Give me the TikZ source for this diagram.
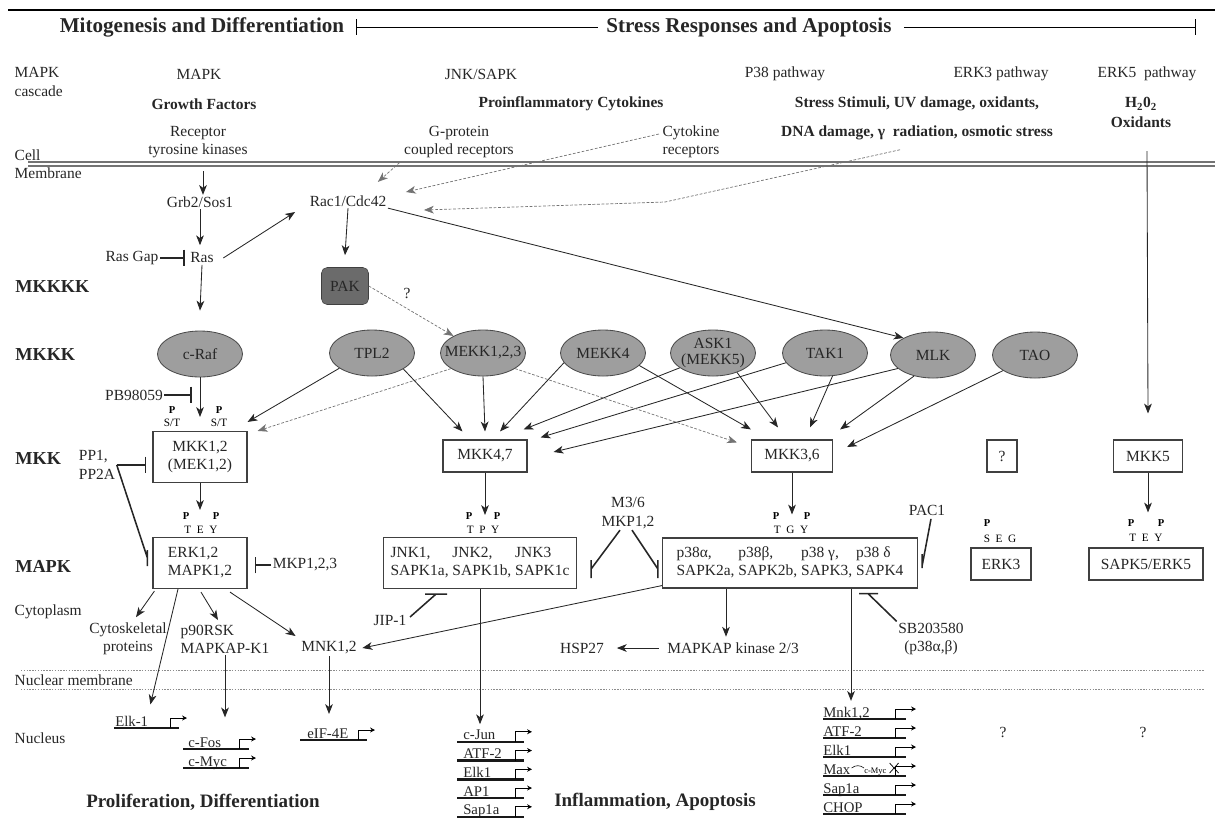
\documentclass[tikz,border=0pt]{standalone}
\usepackage{fontspec}
\setmainfont{Liberation Serif}
\usetikzlibrary{arrows.meta}
\usetikzlibrary{shapes.geometric}

\tikzset{
  txt/.style={font=\fontsize{11}{13}\selectfont, text=black!85, inner sep=1pt, align=center},
  rowlbl/.style={font=\bfseries\fontsize{13}{15}\selectfont, text=black!85, inner sep=0pt, anchor=west},
  ttlfont/.style={font=\bfseries\fontsize{15}{17}\selectfont, text=black!85, inner sep=0pt},
  stim/.style={font=\bfseries\fontsize{11}{13}\selectfont, text=black!85, inner sep=1pt, align=center},
  outcome/.style={font=\bfseries\fontsize{13.5}{15}\selectfont, text=black!85, inner sep=0pt},
  kinlbl/.style={font=\fontsize{11}{12}\selectfont, text=black!85, align=center, inner sep=0pt},
  kinase/.style={ellipse, draw=black!70, fill=black!38, line width=0.6pt, minimum width=2.125cm, minimum height=1.15cm, inner sep=0pt, label={[kinlbl]center:#1}},
  mbox/.style={draw=black!75, line width=0.8pt, fill=white, align=center, font=\fontsize{11}{12.8}\selectfont, text=black!85, inner sep=1pt, minimum height=0.8cm},
  phos/.style={font=\bfseries\fontsize{7.5}{8}\selectfont, inner sep=0pt},
  site/.style={font=\fontsize{8}{8}\selectfont, inner sep=0pt},
  act/.style={-{Stealth[length=7pt,width=5.5pt,inset=2pt]}, line width=0.6pt, draw=black!85},
  weak/.style={-{Stealth[length=7pt,width=5.5pt,inset=2pt]}, line width=0.5pt, draw=black!55, dash pattern=on 2pt off 1.2pt},
  inh/.style={line width=1.1pt, draw=black!85},
  membrane/.style={line width=1pt, draw=black!55},
  nucmem/.style={line width=0.5pt, draw=black!45, dash pattern=on 1pt off 1pt},
  gene/.style={anchor=base west, font=\fontsize{10.5}{11}\selectfont, text=black!85, inner sep=0pt},
  genebar/.style={line width=1.8pt, draw=black!90},
  prom/.style={line width=0.6pt, -{Stealth[length=3.5pt,width=3.5pt]}},
}

\begin{document}
\begin{tikzpicture}[x=0.025cm, y=-0.025cm]
\useasboundingbox (0,0) rectangle (1215,818);

% Drawing top rule and section titles
\draw[line width=1pt] (8,10) -- (1215,10);%
\node[ttlfont] (ttlmito) at (202,27) {Mitogenesis and Differentiation};%
\node[ttlfont] (ttlstress) at (749,27) {Stress Responses and Apoptosis};%
\coordinate (ttlend) at (1196,27);%
\draw[{Bar[width=11pt]}-, line width=0.6pt] ([shift={(12,0)}]ttlmito.east) -- ([shift={(-8,0)}]ttlstress.west);%
\draw[-{Bar[width=11pt]}, line width=0.6pt] ([shift={(12,0)}]ttlstress.east) -- (ttlend);%

% Pathway headers
\node[txt, anchor=west, align=left] (cascade) at (13,82) {MAPK\\cascade};%
\node[txt] (hmapk) at (199,74) {MAPK};%
\node[txt] (hjnk) at (481,74) {JNK/SAPK};%
\node[txt] (hp38) at (785,74) {P38 pathway};%
\node[txt] (herk3) at (1001,74) {ERK3 pathway};%
\node[txt] (herk5) at (1147,74) {ERK5\ \ pathway};%

% Stimuli
\node[stim] (growth) at (204,104) {Growth Factors};%
\node[stim] (proinf) at (571,104) {Proinflammatory Cytokines};%
\node[stim] (stress) at (917,104) {Stress Stimuli, UV damage, oxidants,};%
\node[stim] (dna) at (917,133) {DNA damage, γ\ \ radiation, osmotic stress};%
\node[stim] (htwo) at (1141,104) {H\textsubscript{2}0\textsubscript{2}};%
\node[stim] (oxid) at (1141,122) {Oxidants};%

% Receptors
\node[txt] (rtk) at (198,142) {Receptor\\tyrosine kinases};%
\node[txt] (gpcr) at (459,142) {G-protein\\coupled receptors};%
\node[txt] (cytr) at (691,142) {Cytokine\\receptors};%

% Drawing cell membrane
\node[txt, anchor=west, align=left] (cellmem) at (13,164) {Cell\\Membrane};%
\draw[membrane] (28,162) -- (1215,162);%
\draw[membrane] (28,166) -- (1215,166);%

% Row labels on the left
\node[rowlbl] (lmkkkk) at (15,287) {MKKKK};%
\node[rowlbl] (lmkkk) at (15,355) {MKKK};%
\node[rowlbl] (lmkk) at (15,459) {MKK};%
\node[rowlbl] (lmapk) at (15,566) {MAPK};%
\node[txt, anchor=west] (lcyto) at (13,612) {Cytoplasm};%
\node[txt, anchor=west] (lnucmem) at (13,680) {Nuclear membrane};%
\node[txt, anchor=west] (lnuc) at (13,738) {Nucleus};%

% Drawing nuclear membrane
\draw[nucmem] (21,670) -- (1205,670);%
\draw[nucmem] (21,689) -- (1205,689);%

% Upstream of the MAPK pathway
\node[txt] (grb) at (200,202) {Grb2/Sos1};%
\node[txt] (ras) at (202,258) {Ras};%
\node[txt] (rasgap) at (132,258) {Ras Gap};%
\node[txt] (rac) at (348,201) {Rac1/Cdc42};%
\node[txt, rounded corners=4pt, draw=black!75, fill=black!58, minimum width=1.175cm, minimum height=0.925cm] (pak) at (345,286) {PAK};%
\node[txt] (pakq) at (407,293) {?};%
\node[txt] (pb) at (134,395) {PB98059};%
\coordinate (pbend) at (192,395);%
\coordinate (rtkin) at (203,171);%
\coordinate (kink) at (665,202);%

% MKKK ellipses
\node[kinase={c-Raf}] (raf) at (200,354) {};%
\node[kinase={TPL2}] (tpl2) at (372,353) {};%
\node[kinase={MEKK1,2,3}] (mekk123) at (483,353) {};%
\node[kinase={MEKK4}] (mekk4) at (603,353) {};%
\node[kinase={ASK1\\(MEKK5)}] (ask1) at (713,353) {};%
\node[kinase={TAK1}] (tak1) at (825,353) {};%
\node[kinase={MLK}] (mlk) at (933,355) {};%
\node[kinase={TAO}] (tao) at (1035,355) {};%

% MKK boxes
\node[mbox, minimum width=2.35cm, minimum height=1.275cm] (mkk12) at (200,457) {MKK1,2\\(MEK1,2)};%
\node[mbox, minimum width=2.1cm] (mkk47) at (485,456) {MKK4,7};%
\node[mbox, minimum width=2.025cm] (mkk36) at (792,456) {MKK3,6};%
\node[mbox, minimum width=0.75cm] (mkkq) at (1002,456) {?};%
\node[mbox, minimum width=1.725cm] (mkk5) at (1148,456) {MKK5};%

% MAPK boxes
\node[mbox, minimum width=2.35cm, minimum height=1.275cm, align=left] (erk12) at (200,563) {ERK1,2\\MAPK1,2};%
\node[mbox, minimum width=4.825cm, minimum height=1.275cm] (jnk) at (480,563) {\begin{tabular}{@{}l@{\ }l@{\ }l@{}}JNK1, & JNK2, & JNK3\\ SAPK1a, & SAPK1b, & SAPK1c\end{tabular}};%
\node[mbox, minimum width=6.375cm, minimum height=1.25cm] (p38) at (790,563) {\begin{tabular}{@{}l@{\ }l@{\ }l@{\ }l@{}}p38α, & p38β, & p38 γ, & p38 δ\\ SAPK2a, & SAPK2b, & SAPK3, & SAPK4\end{tabular}};%
\node[mbox, minimum width=1.5cm] (erk3) at (1001,564) {ERK3};%
\node[mbox, minimum width=2.85cm] (sapk5) at (1146,564) {SAPK5/ERK5};%

% Phosphorylation sites
\node[phos] (pm1) at (172,410) {P};%
\node[phos] (pm2) at (219,410) {P};%
\node[site] (sm1) at (172,423) {S/T};%
\node[site] (sm2) at (219,423) {S/T};%
\node[phos] (pe1) at (186,516) {P};%
\node[phos] (pe2) at (216,516) {P};%
\node[site] (tey) at (201,530) {T\enspace E\enspace Y};%
\node[phos] (pj1) at (469,516) {P};%
\node[phos] (pj2) at (497,516) {P};%
\node[site] (tpy) at (483,530) {T\enspace P\enspace Y};%
\node[phos] (pp1) at (776,516) {P};%
\node[phos] (pp2) at (807,516) {P};%
\node[site] (tgy) at (791,530) {T\enspace G\enspace Y};%
\node[phos] (pr1) at (987,523) {P};%
\node[site] (seg) at (1000,539) {S\enspace E\enspace G};%
\node[phos] (pf1) at (1131,523) {P};%
\node[phos] (pf2) at (1161,523) {P};%
\node[site] (tey5) at (1146,538) {T\enspace E\enspace Y};%

% Regulators
\node[txt, align=left] (pp) at (97,465) {PP1,\\PP2A};%
\node[txt] (mkp) at (305,565) {MKP1,2,3};%
\node[txt] (m36) at (628,513) {M3/6\\MKP1,2};%
\node[txt] (pac1) at (927,510) {PAC1};%
\node[txt] (jip) at (390,620) {JIP-1};%
\node[txt] (sb) at (931,639) {SB203580\\(p38α,β)};%
\coordinate (ppend) at ([shift={(-5,-5)}]erk12.west);%
\coordinate (m36j) at ([shift={(14,6)}]jnk.east);%
\coordinate (m36p) at ([shift={(-4,6)}]p38.west);%
\coordinate (pacend) at ([shift={(4,3)}]p38.east);%
\coordinate (jipend) at ([shift={(-44,5)}]jnk.south);%
\coordinate (sbend) at ([shift={(78,5)}]p38.south);%

% Cytoplasmic targets
\node[txt] (cyto) at (128,639) {Cytoskeletal\\proteins};%
\node[txt, align=left] (rsk) at (225,639) {p90RSK\\MAPKAP-K1};%
\node[txt] (mnk) at (329,648) {MNK1,2};%
\node[txt] (hsp) at (582,648) {HSP27};%
\node[txt] (mapkap) at (733,648) {MAPKAP kinase 2/3};%

% Nuclear genes, MAPK branch
\node[gene] (elk) at (115,726) {Elk-1};%
\draw[genebar] ([shift={(-1,2)}]elk.base west) -- ++(65,0);%
\draw[prom] ([shift={(55,2)}]elk.base west) -- ++(0,-10) -- ++(17,0);%
\node[gene] (cfos) at (188,747) {c-Fos};%
\draw[genebar] ([shift={(-5,2)}]cfos.base west) -- ++(66,0);%
\draw[prom] ([shift={(51,2)}]cfos.base west) -- ++(0,-10) -- ++(17,0);%
\node[gene] (cmyc) at (188,766) {c-Myc};%
\draw[genebar] ([shift={(-5,2)}]cmyc.base west) -- ++(66,0);%
\draw[prom] ([shift={(51,2)}]cmyc.base west) -- ++(0,-10) -- ++(17,0);%
\node[gene] (eif) at (307,738) {eIF-4E};%
\draw[genebar] ([shift={(-7,2)}]eif.base west) -- ++(67,0);%
\draw[prom] ([shift={(51,2)}]eif.base west) -- ++(0,-10) -- ++(17,0);%

% Nuclear genes, JNK branch
\foreach \g [count=\i] in {c-Jun,ATF-2,Elk1,AP1,Sap1a}{
  \node[gene] (jg\i) at (463,721+18.75*\i) {\g};
  \draw[genebar] ([shift={(-6,2)}]jg\i.base west) -- ++(67,0);
  \draw[prom] ([shift={(52,2)}]jg\i.base west) -- ++(0,-10) -- ++(17,0);
}

% Nuclear genes, p38 branch
\foreach \g [count=\i] in {{Mnk1,2},ATF-2,Elk1,Max,Sap1a,CHOP}{
  \node[gene] (pg\i) at (823,698+19*\i) {\g};
  \draw[genebar] ([shift={(0,2)}]pg\i.base west) -- ++(83,0);
  \draw[prom] ([shift={(72,2)}]pg\i.base west) -- ++(0,-10) -- ++(21,0);
}
\node[font=\fontsize{6}{6}\selectfont, inner sep=0pt, anchor=base west] (cmyc2) at (864,773) {c-Myc};%
\draw[line width=0.4pt] ([shift={(1,-6)}]pg4.base east) to[bend left=40] ([shift={(0,-5)}]cmyc2.base west);%
\draw[line width=0.5pt] ([shift={(3,-10)}]cmyc2.base east) -- ([shift={(12,0)}]cmyc2.base east) ([shift={(3,0)}]cmyc2.base east) -- ([shift={(12,-10)}]cmyc2.base east);%

% Outcomes
\node[txt] (q3) at (1003,732) {?};%
\node[txt] (q5) at (1143,732) {?};%
\node[outcome] (prolif) at (203,802) {Proliferation, Differentiation};%
\node[outcome] (inflam) at (655,802) {Inflammation, Apoptosis};%

% Drawing receptor signals
\draw[act] (rtkin) -- (rtkin |- grb.north);%
\draw[weak] ([shift={(-3,3)}]gpcr.south west) -- ([shift={(-10,-12)}]rac.north east);%
\draw[weak] ([shift={(-2,-8)}]cytr.west) -- ([shift={(18,-9)}]rac.east);%
\draw[weak] ([shift={(-17,8)}]dna.south) -- (kink) -- ([shift={(36,9)}]rac.east);%
\draw[act] ([shift={(6,22)}]oxid.south) -- ([shift={(0,-26)}]mkk5.north);%

% Drawing upstream arrows
\draw[act] (grb.south) -- ([shift={(-2,-6)}]ras.north);%
\draw[inh, -{Bar[width=12pt]}] (rasgap.east) -- ([shift={(-4,0)}]ras.west);%
\draw[act] (ras.south) -- ([shift={(0,-20)}]raf.north);%
\draw[act] ([shift={(8,0)}]ras.east) -- ([shift={(-13,11)}]rac.west);%
\draw[act] (rac.south) -- ([shift={(0,-12)}]pak.north);%
\draw[act] (rac.south east) -- (mlk.150);%
\draw[weak] (pak.east) -- (mekk123.150);%
\draw[inh, -{Bar[width=12pt]}] (pb.east) -- (pbend);%

% Drawing MKKK to MKK arrows
\draw[act] (raf.south) -- ([shift={(0,-14)}]mkk12.north);%
\draw[act] (tpl2.205) -- ([shift={(0,-9)}]mkk12.north east);%
\draw[weak] (mekk123.206) -- ([shift={(10,0)}]mkk12.north east);%
\draw[act] (tpl2.333) -- ([shift={(20,-8)}]mkk47.north west);%
\draw[act] (mekk123.south) -- ([shift={(0,-8)}]mkk47.north);%
\draw[act] (mekk4.194) -- ([shift={(15,-8)}]mkk47.north);%
\draw[act] (ask1.204) -- ([shift={(-4,-10)}]mkk47.north east);%
\draw[act] (tak1.194) -- ([shift={(13,-2)}]mkk47.north east);%
\draw[act] (mlk.201) -- ([shift={(26,-4)}]mkk47.east);%
\draw[weak] (mekk123.334) -- ([shift={(-14,3)}]mkk36.north west);%
\draw[act] (mekk4.341) -- ([shift={(0,-10)}]mkk36.north west);%
\draw[act] (ask1.321) -- ([shift={(-14,-12)}]mkk36.north);%
\draw[act] (tak1.288) -- ([shift={(18,-12)}]mkk36.north);%
\draw[act] (mlk.228) -- ([shift={(7,-10)}]mkk36.north east);%
\draw[act] (tao.206) -- ([shift={(14,-9)}]mkk36.east);%

% Drawing MKK to MAPK arrows
\draw[act] (mkk12.south) -- ([shift={(0,-27)}]erk12.north);%
\draw[act] (mkk47.south) -- ([shift={(5,-22)}]jnk.north);%
\draw[act] (mkk36.south) -- ([shift={(2,-23)}]p38.north);%
\draw[act] (mkk5.south) -- ([shift={(2,-35)}]sapk5.north);%

% Drawing inhibitors
\draw[inh, -{Bar[width=12pt]}] (pp.east) -- ([shift={(-6,8)}]mkk12.west);%
\draw[inh] (pp.east) -- (ppend) ([shift={(0,-8)}]ppend) -- ([shift={(0,8)}]ppend);%
\draw[inh, -{Bar[width=12pt]}] (mkp.west) -- ([shift={(7,2)}]erk12.east);%
\draw[inh] ([shift={(-8,0)}]m36.south) -- (m36j) ([shift={(0,-9)}]m36j) -- ([shift={(0,9)}]m36j);%
\draw[inh] ([shift={(4,0)}]m36.south) -- (m36p) ([shift={(0,-9)}]m36p) -- ([shift={(0,9)}]m36p);%
\draw[inh] ([shift={(4,2)}]pac1.south) -- (pacend) ([shift={(0,-12)}]pacend) -- ([shift={(0,2)}]pacend);%
\draw[inh] ([shift={(2,-3)}]jip.east) -- (jipend) ([shift={(-11,0)}]jipend) -- ([shift={(11,0)}]jipend);%
\draw[inh] (sb.north west) -- (sbend) ([shift={(-9,0)}]sbend) -- ([shift={(10,0)}]sbend);%

% Drawing downstream arrows
\draw[act] ([shift={(2,2)}]erk12.south west) -- ([shift={(8,-4)}]cyto.north);%
\draw[act] ([shift={(1,3)}]erk12.south) -- ([shift={(-7,-3)}]rsk.north);%
\draw[act] ([shift={(30,3)}]erk12.south) -- ([shift={(-4,-4)}]mnk.north west);%
\draw[act] ([shift={(-22,0)}]erk12.south) -- ([shift={(2,-11)}]elk.north east);%
\draw[act, shorten >=14pt] (rsk.south) -- (rsk.south |- cfos.north);%
\draw[act, shorten >=10pt] (mnk.south) -- (mnk.south |- eif.north);%
\draw[act, shorten >=4pt] (jnk.south) -- (jnk.south |- jg1.north);%
\coordinate (p38out) at ([shift={(61,0)}]p38.south);%
\draw[act, shorten >=4pt] (p38out) -- (p38out |- pg1.north);%
\coordinate (p38mk) at ([shift={(-64,0)}]p38.south);%
\draw[act, shorten >=3pt] (p38mk) -- (p38mk |- mapkap.north);%
\draw[act, shorten <=5pt, shorten >=8pt] (mapkap.west) -- (hsp.east);%
\draw[act] ([shift={(0,-3)}]p38.south west) -- ([shift={(4,0)}]mnk.east);%
\end{tikzpicture}
\end{document}
